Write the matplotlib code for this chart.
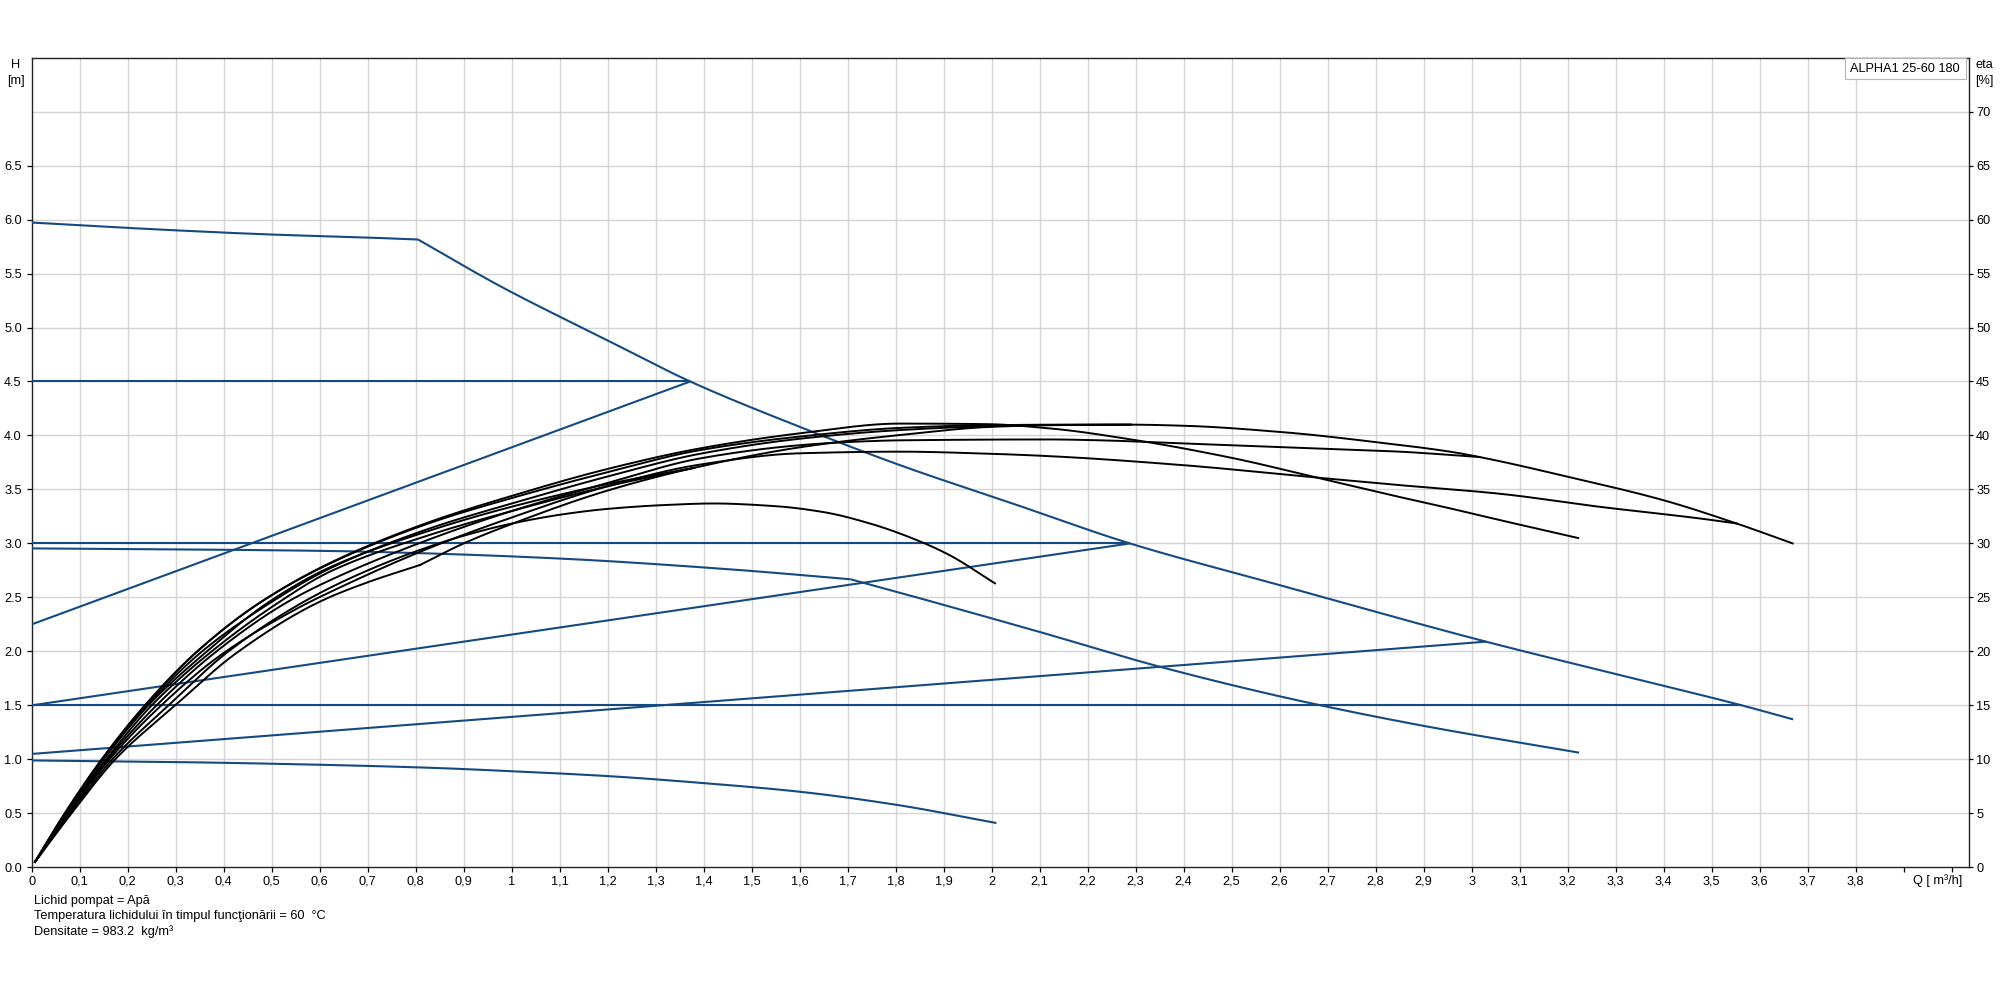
import matplotlib
matplotlib.use("Agg")
import matplotlib.pyplot as plt
from matplotlib.patches import Rectangle
import numpy as np

plt.rcParams['font.family'] = ['Liberation Sans', 'DejaVu Sans']

# ---------------- data ----------------
x_ticks = [0.0, 0.1, 0.2, 0.3, 0.4, 0.5, 0.6, 0.7, 0.8, 0.9, 1.0, 1.1, 1.2, 1.3, 1.4,
           1.5, 1.6, 1.7, 1.8, 1.9, 2.0, 2.1, 2.2, 2.3, 2.4, 2.5, 2.6, 2.7, 2.8, 2.9,
           3.0, 3.1, 3.2, 3.3, 3.4, 3.5, 3.6, 3.7, 3.8, 3.9, 4.0]
x_tick_labels = ['0', '0,1', '0,2', '0,3', '0,4', '0,5', '0,6', '0,7', '0,8', '0,9',
                 '1', '1,1', '1,2', '1,3', '1,4', '1,5', '1,6', '1,7', '1,8', '1,9',
                 '2', '2,1', '2,2', '2,3', '2,4', '2,5', '2,6', '2,7', '2,8', '2,9',
                 '3', '3,1', '3,2', '3,3', '3,4', '3,5', '3,6', '3,7', '3,8', '', '']
x_grid = x_ticks[1:39]
h_ticks = [0.0, 0.5, 1.0, 1.5, 2.0, 2.5, 3.0, 3.5, 4.0, 4.5, 5.0, 5.5, 6.0, 6.5]
h_tick_labels = ['0.0', '0.5', '1.0', '1.5', '2.0', '2.5', '3.0', '3.5', '4.0',
                 '4.5', '5.0', '5.5', '6.0', '6.5']
h_grid = [0.5, 1.0, 1.5, 2.0, 2.5, 3.0, 3.5, 4.0, 4.5, 5.0, 5.5, 6.0, 6.5, 7.0]
eta_ticks = [0, 5, 10, 15, 20, 25, 30, 35, 40, 45, 50, 55, 60, 65, 70]
eta_tick_labels = ['0', '5', '10', '15', '20', '25', '30', '35', '40', '45', '50',
                   '55', '60', '65', '70']

# H-Q curves (blue), Q in m3/h, H in m ; *_kinks = Q values where the curve has a corner
max_q = [0.0, 0.1, 0.3, 0.5, 0.7, 0.805, 0.976, 1.2, 1.372, 1.6, 1.809, 2.05, 2.288,
         2.6, 2.85, 3.03, 3.3, 3.563, 3.67]
max_h = [5.972, 5.947, 5.90, 5.861, 5.833, 5.815, 5.383, 4.88, 4.5, 4.08, 3.725, 3.36,
         3.0, 2.614, 2.305, 2.09, 1.79, 1.5, 1.37]
max_kinks = [0.805]
cp1_q = [0.0, 1.372]
cp1_h = [4.5, 4.5]
pp1_q = [0.0, 1.372]
pp1_h = [2.25, 4.5]
cp2_q = [0.0, 2.288]
cp2_h = [3.0, 3.0]
pp2_q = [0.0, 2.288]
pp2_h = [1.5, 3.0]
cp3_q = [0.0, 3.563]
cp3_h = [1.5, 1.5]
pp3_q = [0.0, 3.03]
pp3_h = [1.05, 2.09]
s3_q = [0.0, 0.3, 0.622, 0.83, 1.1, 1.455, 1.706, 1.809, 2.1, 2.351, 2.635, 2.9, 3.224]
s3_h = [2.954, 2.945, 2.93, 2.907, 2.86, 2.76, 2.668, 2.543, 2.18, 1.857, 1.549, 1.31, 1.062]
s3_kinks = [1.706]
s1_q = [0.0, 0.3, 0.6, 0.83, 1.0, 1.2, 1.4, 1.6, 1.8, 2.01]
s1_h = [0.99, 0.975, 0.95, 0.922, 0.89, 0.845, 0.78, 0.70, 0.58, 0.41]

# efficiency curves (black), eta in %
eta_max_q = [0.007, 0.083, 0.174, 0.299, 0.425, 0.60, 0.70, 0.809, 0.9, 1.0, 1.2, 1.38,
             1.6, 1.8, 2.0, 2.12, 2.29, 2.4, 2.608, 2.816, 2.955, 3.017, 3.198, 3.40,
             3.552, 3.669]
eta_max = [0.5, 5, 10, 15, 19.8, 24.6, 26.4, 28.0, 30.0, 31.8, 34.9, 37.0,
           38.9, 40.0, 40.8, 40.95, 41.0, 40.9, 40.3, 39.3, 38.5, 38.0, 36.2, 34.0,
           31.85, 30.0]
eta_max_kinks = [0.809]
eta_cp1_q = [0.007, 0.07, 0.15, 0.243, 0.365, 0.495, 0.622, 0.83, 1.0, 1.2, 1.38]
eta_cp1 = [0.5, 5, 10, 15, 20, 24.6, 27.8, 31.2, 33.4, 35.5, 37.0]
eta_pp1_q = [0.007, 0.072, 0.155, 0.25, 0.375, 0.51, 0.622, 0.83, 1.0, 1.2, 1.38]
eta_pp1 = [0.5, 5, 10, 15, 20, 24.4, 27.4, 30.8, 33.0, 35.3, 37.0]
eta_cp2_q = [0.007, 0.069, 0.146, 0.236, 0.345, 0.475, 0.622, 0.83, 1.0, 1.2, 1.392,
             1.601, 1.809, 1.989, 2.15, 2.29]
eta_cp2 = [0.5, 5, 10, 15, 20, 24.5, 28.15, 31.9, 34.2, 36.6, 38.64, 39.9, 40.7, 40.95,
           41.0, 41.0]
eta_pp2_q = [0.007, 0.07, 0.148, 0.24, 0.355, 0.49, 0.622, 0.83, 1.0, 1.2, 1.392,
             1.601, 1.809, 1.989, 2.15, 2.29]
eta_pp2 = [0.5, 5, 10, 15, 20, 24.3, 27.7, 31.4, 33.7, 36.2, 38.3, 39.7, 40.5, 40.85,
           40.98, 41.0]
eta_cp3_q = [0.007, 0.077, 0.162, 0.27, 0.392, 0.55, 0.622, 0.83, 1.0, 1.2, 1.392,
             1.601, 1.809, 2.0, 2.122, 2.399, 2.677, 2.85, 3.059, 3.267, 3.476, 3.552]
eta_cp3 = [0.5, 5, 10, 15, 19.6, 23.9, 25.5, 29.6, 32.4, 35.3, 37.3, 38.35, 38.5, 38.3,
           38.08, 37.25, 36.1, 35.4, 34.6, 33.39, 32.31, 31.85]
eta_pp3_q = [0.007, 0.074, 0.158, 0.26, 0.385, 0.53, 0.622, 0.83, 1.0, 1.2, 1.392,
             1.601, 1.705, 1.809, 2.122, 2.226, 2.399, 2.677, 2.85, 2.955, 3.017]
eta_pp3 = [0.5, 5, 10, 15, 20, 24.5, 26.6, 30.4, 33.0, 35.6, 37.87, 39.1, 39.4, 39.55,
           39.63, 39.55, 39.26, 38.8, 38.5, 38.2, 38.0]
eta_s3_q = [0.007, 0.069, 0.146, 0.236, 0.345, 0.475, 0.622, 0.83, 1.0, 1.2, 1.392,
            1.601, 1.809, 1.989, 2.122, 2.295, 2.503, 2.677, 2.85, 2.955, 3.059, 3.222]
eta_s3 = [0.5, 5, 10, 15, 20, 24.5, 28.2, 32.0, 34.4, 36.9, 38.8, 40.2, 41.1, 41.05,
          40.65, 39.6, 37.9, 36.1, 34.3, 33.25, 32.16, 30.5]
eta_s1_q = [0.007, 0.08, 0.168, 0.285, 0.41, 0.575, 0.7, 0.809, 0.899, 0.996, 1.107,
            1.2, 1.316, 1.42, 1.55, 1.65, 1.75, 1.85, 1.913, 2.007]
eta_s1 = [0.5, 5, 10, 15, 20, 24.8, 27.5, 29.4, 30.7, 31.8, 32.7, 33.2, 33.55, 33.7,
          33.45, 32.9, 31.8, 30.2, 28.9, 26.3]

pump_name = 'ALPHA1 25-60 180'
notes = ['Lichid pompat = Apă',
         'Temperatura lichidului în timpul funcţionării = 60  °C',
         'Densitate = 983.2  kg/m³']


# ---------------- smooth drawing helper (monotone cubic through the read points) ----
def _pchip(x, y, n=60):
    x = np.asarray(x, float)
    y = np.asarray(y, float)
    if len(x) < 3:
        return x, y
    h = np.diff(x)
    d = np.diff(y) / h
    m = np.zeros_like(y)
    for k in range(1, len(x) - 1):
        if d[k - 1] * d[k] <= 0:
            m[k] = 0.0
        else:
            w1 = 2 * h[k] + h[k - 1]
            w2 = h[k] + 2 * h[k - 1]
            m[k] = (w1 + w2) / (w1 / d[k - 1] + w2 / d[k])
    m[0] = d[0]
    m[-1] = d[-1]
    xs, ys = [], []
    for k in range(len(x) - 1):
        t = np.linspace(0, 1, n, endpoint=(k == len(x) - 2))
        h00 = 2 * t**3 - 3 * t**2 + 1
        h10 = t**3 - 2 * t**2 + t
        h01 = -2 * t**3 + 3 * t**2
        h11 = t**3 - t**2
        xs.append(x[k] + t * h[k])
        ys.append(h00 * y[k] + h10 * h[k] * m[k] + h01 * y[k + 1] + h11 * h[k] * m[k + 1])
    return np.concatenate(xs), np.concatenate(ys)


def draw(axis, q, v, kinks=(), **kw):
    q = list(q)
    v = list(v)
    cuts = [0] + [q.index(k) for k in kinks] + [len(q) - 1]
    for a, b in zip(cuts[:-1], cuts[1:]):
        xs, ys = _pchip(q[a:b + 1], v[a:b + 1])
        axis.plot(xs, ys, **kw)


# ---------------- figure ----------------
BLUE = '#144a80'
GRID = '#d4d4d4'
FS = 9.2

fig = plt.figure(figsize=(20, 10), dpi=100)
ax = fig.add_axes([0.01585, 0.1327, 0.9688, 0.8097])
ax.set_xlim(0, 4.037)
ax.set_ylim(0, 7.5)

for xv in x_grid:
    ax.axvline(xv, color=GRID, lw=1.0, zorder=0)
for yv in h_grid:
    ax.axhline(yv, color=GRID, lw=1.0, zorder=0)

blue_curves = [(max_q, max_h, max_kinks), (cp1_q, cp1_h, []), (pp1_q, pp1_h, []),
               (cp2_q, cp2_h, []), (pp2_q, pp2_h, []), (cp3_q, cp3_h, []),
               (pp3_q, pp3_h, []), (s3_q, s3_h, s3_kinks), (s1_q, s1_h, [])]
for q, h, kk in blue_curves:
    draw(ax, q, h, kk, color=BLUE, lw=1.5, solid_capstyle='butt', zorder=3)

ax.set_xticks(x_ticks)
ax.set_xticklabels(x_tick_labels)
ax.set_yticks(h_ticks)
ax.set_yticklabels(h_tick_labels)
ax.tick_params(axis='x', direction='out', length=3.6, width=0.9, pad=2.5,
               labelsize=FS, colors='black')
ax.tick_params(axis='y', direction='out', length=3.6, width=0.9, pad=3.5,
               labelsize=FS, colors='black')
for s in ax.spines.values():
    s.set_color('#222222')
    s.set_linewidth(1.0)

ax2 = ax.twinx()
ax2.set_ylim(0, 75)
eta_curves = [(eta_max_q, eta_max, eta_max_kinks), (eta_cp1_q, eta_cp1, []),
              (eta_pp1_q, eta_pp1, []), (eta_cp2_q, eta_cp2, []),
              (eta_pp2_q, eta_pp2, []), (eta_cp3_q, eta_cp3, []),
              (eta_pp3_q, eta_pp3, []), (eta_s3_q, eta_s3, []), (eta_s1_q, eta_s1, [])]
for q, e, kk in eta_curves:
    draw(ax2, q, e, kk, color='black', lw=1.4, zorder=4)
ax2.set_yticks(eta_ticks)
ax2.set_yticklabels(eta_tick_labels)
ax2.tick_params(axis='y', direction='out', length=3.0, width=0.9, pad=2,
                labelsize=FS, colors='black')
for s in ax2.spines.values():
    s.set_visible(False)

# axis captions
fig.text(16 / 2000, 1 - 65 / 1000, 'H', ha='center', va='center', fontsize=FS)
fig.text(16 / 2000, 1 - 81 / 1000, '[m]', ha='center', va='center', fontsize=FS)
fig.text(1984 / 2000, 1 - 65 / 1000, 'eta', ha='center', va='center', fontsize=FS)
fig.text(1984 / 2000, 1 - 81 / 1000, '[%]', ha='center', va='center', fontsize=FS)
fig.text(1938 / 2000, 1 - 880.5 / 1000, 'Q [ m³/h]', ha='center', va='center', fontsize=FS)

# pump name box
rect = Rectangle((1845 / 2000, 1 - 79 / 1000), 120.7 / 2000, 21 / 1000,
                 transform=fig.transFigure, facecolor='white', edgecolor='#b5b5b5',
                 lw=0.8, zorder=10)
fig.add_artist(rect)
fig.text(1904.5 / 2000, 1 - 68.5 / 1000, pump_name, ha='center', va='center',
         fontsize=FS, zorder=11)

# notes
for i, line in enumerate(notes):
    fig.text(34 / 2000, 1 - (901 + 15.3 * i) / 1000, line, ha='left', va='center',
             fontsize=FS)

fig.savefig('out.png', dpi=100, facecolor='white')
